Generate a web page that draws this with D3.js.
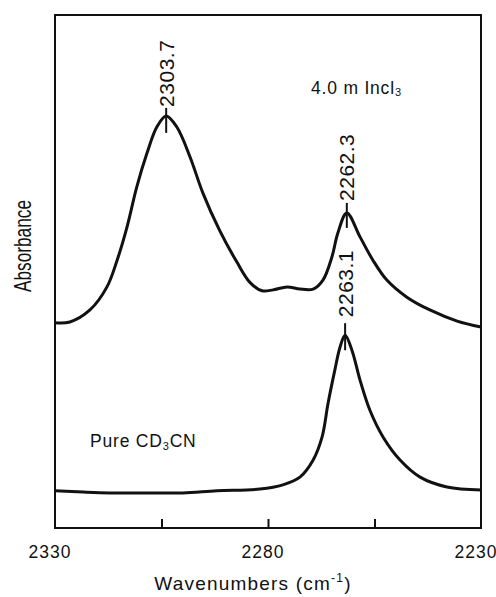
<!DOCTYPE html>
<html>
<head>
<meta charset="utf-8">
<script src="https://cdn.jsdelivr.net/npm/d3@7"></script>
<style>
  html, body { margin: 0; padding: 0; background: #fff; }
  svg { display: block; font-family: "Liberation Sans", Arial, sans-serif; }
</style>
</head>
<body>
<svg id="chart" width="496" height="597"></svg>
<script>
// ---- data ----
// 4.0 m InCl3 solution spectrum: wavenumber (cm-1), absorbance (arb.)
const inclWavenumber = [2330, 2326.5, 2321.8, 2317.8, 2315.4, 2313.1, 2310.8, 2308.4, 2306.1, 2303.9, 2301.4, 2298.3, 2295.3, 2291.3, 2287.3, 2284.2, 2281.4, 2278.8, 2275.5, 2272.5, 2269.4, 2267.1, 2265.0, 2263.6, 2261.5, 2258.4, 2255.4, 2252.1, 2247.4, 2242.0, 2235.6, 2230];
const inclAbsorbance = [0.480, 0.482, 0.510, 0.564, 0.627, 0.704, 0.798, 0.877, 0.938, 0.964, 0.938, 0.868, 0.784, 0.695, 0.622, 0.574, 0.555, 0.557, 0.564, 0.559, 0.559, 0.580, 0.634, 0.690, 0.737, 0.681, 0.627, 0.580, 0.540, 0.510, 0.484, 0.470];

// Pure CD3CN spectrum
const pureWavenumber = [2330, 2323.4, 2317.1, 2307.7, 2300.0, 2292.0, 2281.9, 2276.5, 2272.5, 2269.4, 2267.3, 2265.9, 2264.3, 2263.1, 2261.9, 2260.3, 2258.4, 2256.1, 2253.0, 2249.0, 2244.3, 2238.0, 2230];
const pureAbsorbance = [0.087, 0.084, 0.082, 0.082, 0.082, 0.087, 0.091, 0.101, 0.119, 0.159, 0.213, 0.292, 0.370, 0.423, 0.451, 0.416, 0.346, 0.276, 0.213, 0.159, 0.119, 0.096, 0.089];

// peak annotations: label text, marked position (wavenumber), peak absorbance
const peakLabels = ["2303.7", "2262.3", "2263.1"];
const peakPositions = [2303.9, 2261.5, 2261.9];
const peakHeights = [0.964, 0.737, 0.451];

// axis
const xTickMarks = [2305, 2280, 2255];
const xTickLabels = [2330, 2280, 2230];
const xDomain = [2330, 2230];
const yDomain = [0, 1.2];

// ---- layout ----
const svg = d3.select("#chart");
const L = 55, R = 481, T = 15, B = 528;
const x = d3.scaleLinear().domain(xDomain).range([L, R]);
const y = d3.scaleLinear().domain(yDomain).range([B, T]);
const ink = "#111";

// frame
svg.append("rect")
  .attr("x", L).attr("y", T).attr("width", R - L).attr("height", B - T)
  .attr("fill", "none").attr("stroke", ink).attr("stroke-width", 2);

// inward ticks on bottom axis
const axis = d3.axisBottom(x).tickValues(xTickMarks).tickSize(-9).tickFormat("");
const gAx = svg.append("g").attr("transform", `translate(0,${B})`).call(axis);
gAx.select(".domain").remove();
gAx.selectAll(".tick line").attr("stroke", ink).attr("stroke-width", 2);

// tick labels
svg.append("g").selectAll("text").data(xTickLabels).join("text")
  .attr("x", d => x(d) - 5).attr("y", 558)
  .attr("text-anchor", "middle")
  .attr("font-size", 17.5).attr("letter-spacing", 1).attr("fill", ink)
  .text(d => d);

// axis titles
const xt = svg.append("text")
  .attr("x", 253).attr("y", 590).attr("text-anchor", "middle")
  .attr("font-size", 19).attr("fill", ink).attr("letter-spacing", 1.2);
xt.append("tspan").text("Wavenumbers  (cm");
xt.append("tspan").attr("font-size", 12).attr("dy", -8).text("-1");
xt.append("tspan").attr("dy", 8).text(")");

svg.append("text")
  .attr("transform", "translate(31,246) rotate(-90)")
  .attr("text-anchor", "middle")
  .attr("font-size", 24).attr("fill", ink)
  .attr("textLength", 92).attr("lengthAdjust", "spacingAndGlyphs")
  .text("Absorbance");

// spectra
const line = d3.line()
  .x(d => x(d[0])).y(d => y(d[1]))
  .curve(d3.curveCatmullRom.alpha(0.5));

const inclData = d3.zip(inclWavenumber, inclAbsorbance);
const pureData = d3.zip(pureWavenumber, pureAbsorbance);

svg.append("path").datum(inclData).attr("d", line)
  .attr("fill", "none").attr("stroke", ink).attr("stroke-width", 3)
  .attr("stroke-linejoin", "round");
svg.append("path").datum(pureData).attr("d", line)
  .attr("fill", "none").attr("stroke", ink).attr("stroke-width", 3)
  .attr("stroke-linejoin", "round");

// peak markers and labels
const above = [8, 10, 12];
const below = [17, 15, 15];
const gap = [1, 2, 6];
peakLabels.forEach((lab, i) => {
  const px = x(peakPositions[i]), py = y(peakHeights[i]);
  svg.append("line")
    .attr("x1", px).attr("x2", px)
    .attr("y1", py - above[i]).attr("y2", py + below[i])
    .attr("stroke", ink).attr("stroke-width", 2);
  svg.append("text")
    .attr("transform", `translate(${px},${py - above[i] - gap[i]}) rotate(-90)`)
    .attr("dy", "0.36em")
    .attr("font-size", 21).attr("letter-spacing", 0.5).attr("fill", ink)
    .text(lab);
});

// series labels
const t1 = svg.append("text").attr("x", 311).attr("y", 94)
  .attr("font-size", 17.5).attr("fill", ink).attr("letter-spacing", 0.8);
t1.append("tspan").text("4.0 m  Incl");
t1.append("tspan").attr("font-size", 11).attr("dy", 2).text("3");

const t2 = svg.append("text").attr("x", 90).attr("y", 447)
  .attr("font-size", 17.5).attr("fill", ink).attr("letter-spacing", 0.8);
t2.append("tspan").text("Pure  CD");
t2.append("tspan").attr("font-size", 11).attr("dy", 3).text("3");
t2.append("tspan").attr("dy", -3).text("CN");
</script>
</body>
</html>
